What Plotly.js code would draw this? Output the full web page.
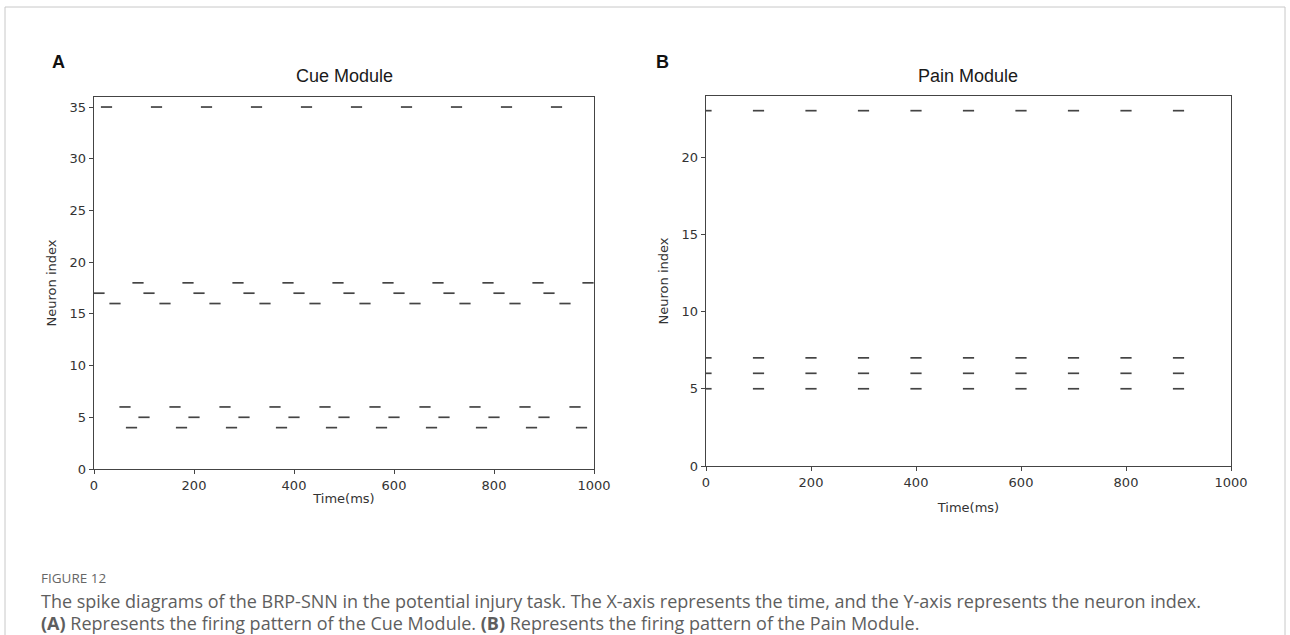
<!DOCTYPE html>
<html>
<head>
<meta charset="utf-8">
<script src="https://cdn.plot.ly/plotly-3.0.1.min.js"></script>
<style>
html,body{margin:0;padding:0;background:#fff;}
#chart{width:1290px;height:635px;}
</style>
</head>
<body>
<div id="chart"></div>
<script>
// ---- Data ----
// Panel A: Cue Module, spike times (ms) for each firing neuron
const cueNeuron35 = [25, 125, 225, 325, 425, 525, 625, 725, 825, 925];
const cueNeuron18 = [88, 188, 288, 388, 488, 588, 688, 788, 888, 988];
const cueNeuron17 = [10, 110, 210, 310, 410, 510, 610, 710, 810, 910];
const cueNeuron16 = [42, 142, 242, 342, 442, 542, 642, 742, 842, 942];
const cueNeuron6  = [62, 162, 262, 362, 462, 562, 662, 762, 862, 962];
const cueNeuron5  = [100, 200, 300, 400, 500, 600, 700, 800, 900];
const cueNeuron4  = [75, 175, 275, 375, 475, 575, 675, 775, 875, 975];
const cueNeuronIds = [35, 18, 17, 16, 6, 5, 4];
const cueSpikeLists = [cueNeuron35, cueNeuron18, cueNeuron17, cueNeuron16, cueNeuron6, cueNeuron5, cueNeuron4];

// Panel B: Pain Module
const painNeuronIds = [23, 7, 6, 5];
const painSpikeTimes = [0, 100, 200, 300, 400, 500, 600, 700, 800, 900];

// Ticks
const xTicks = [0, 200, 400, 600, 800, 1000];
const cueYTicks = [0, 5, 10, 15, 20, 25, 30, 35];
const painYTicks = [0, 5, 10, 15, 20];

// Texts
const panelTitles = ["Cue Module", "Pain Module"];
const panelLetters = ["A", "B"];
const xAxisTitle = "Time(ms)";
const yAxisTitle = "Neuron index";
const figureLabel = "FIGURE 12";
const captionLine1 = "The spike diagrams of the BRP-SNN in the potential injury task. The X-axis represents the time, and the Y-axis represents the neuron index.";
const captionLine2 = "<b>(A)</b> Represents the firing pattern of the Cue Module. <b>(B)</b> Represents the firing pattern of the Pain Module.";

// ---- Build traces ----
const cueX = [], cueY = [];
cueNeuronIds.forEach((id, i) => {
  cueSpikeLists[i].forEach(t => { cueX.push(t); cueY.push(id); });
});
const painX = [], painY = [];
painNeuronIds.forEach(id => {
  painSpikeTimes.forEach(t => { painX.push(t); painY.push(id); });
});

const W = 1290, H = 635;
const px = v => v / W;
const py = v => 1 - v / H;

const spikeMarker = {symbol: 'line-ew', size: 8, line: {width: 1.7, color: '#444'}, color: '#444'};

const traces = [
  {x: cueX, y: cueY, type: 'scatter', mode: 'markers', marker: spikeMarker, xaxis: 'x', yaxis: 'y', hoverinfo: 'x+y', showlegend: false, cliponaxis: true},
  {x: painX, y: painY, type: 'scatter', mode: 'markers', marker: spikeMarker, xaxis: 'x2', yaxis: 'y2', hoverinfo: 'x+y', showlegend: false, cliponaxis: true}
];

const tickFont = {family: 'DejaVu Sans, sans-serif', size: 13, color: '#333'};
const titleFont = {family: 'DejaVu Sans, sans-serif', size: 13, color: '#333'};

function xaxisCfg(domain, anchor, standoff) {
  return {
    domain: domain, anchor: anchor, range: [0, 1000], tickvals: xTicks, ticktext: xTicks.map(String),
    showgrid: false, zeroline: false, showline: true, mirror: true, linecolor: '#444', linewidth: 1.3,
    ticks: 'outside', ticklen: 4, tickwidth: 1, tickcolor: '#444', tickfont: tickFont,
    title: {text: xAxisTitle, font: titleFont, standoff: standoff}, automargin: false, fixedrange: true
  };
}
function yaxisCfg(domain, anchor, range, ticks) {
  return {
    domain: domain, anchor: anchor, range: range, tickvals: ticks, ticktext: ticks.map(String),
    showgrid: false, zeroline: false, showline: true, mirror: true, linecolor: '#444', linewidth: 1.3,
    ticks: 'outside', ticklen: 4, tickwidth: 1, tickcolor: '#444', tickfont: tickFont,
    title: {text: yAxisTitle, font: titleFont, standoff: 10}, automargin: false, fixedrange: true
  };
}

const annFont = {family: 'Liberation Sans, Arial, sans-serif', size: 18, color: '#1a1a1a'};
const capFont = {family: 'Open Sans, sans-serif', size: 18, color: '#5e5e5e'};

const layout = {
  width: W, height: H,
  margin: {l: 0, r: 0, t: 0, b: 0},
  paper_bgcolor: '#fff', plot_bgcolor: '#fff',
  showlegend: false,
  xaxis: xaxisCfg([px(94), px(594)], 'y', 2),
  yaxis: yaxisCfg([py(469), py(97)], 'x', [0, 35.97], cueYTicks),
  xaxis2: xaxisCfg([px(706), px(1231)], 'y2', 14),
  yaxis2: yaxisCfg([py(466), py(96)], 'x2', [0, 23.95], painYTicks),
  annotations: [
    {text: panelTitles[0], x: px(344), y: py(76), xref: 'paper', yref: 'paper', xanchor: 'center', yanchor: 'middle', showarrow: false, font: annFont},
    {text: panelTitles[1], x: px(968), y: py(76), xref: 'paper', yref: 'paper', xanchor: 'center', yanchor: 'middle', showarrow: false, font: annFont},
    {text: '<b>' + panelLetters[0] + '</b>', x: px(50), y: py(62), xref: 'paper', yref: 'paper', xanchor: 'left', yanchor: 'middle', showarrow: false, font: {family: 'Liberation Sans, Arial, sans-serif', size: 18, color: '#111'}},
    {text: '<b>' + panelLetters[1] + '</b>', x: px(654), y: py(62), xref: 'paper', yref: 'paper', xanchor: 'left', yanchor: 'middle', showarrow: false, font: {family: 'Liberation Sans, Arial, sans-serif', size: 18, color: '#111'}},
    {text: figureLabel, x: px(39), y: py(578), xref: 'paper', yref: 'paper', xanchor: 'left', yanchor: 'middle', showarrow: false, font: {family: 'Open Sans, sans-serif', size: 13.5, color: '#666'}},
    {text: captionLine1, x: px(39), y: py(601), xref: 'paper', yref: 'paper', xanchor: 'left', yanchor: 'middle', showarrow: false, font: capFont},
    {text: captionLine2, x: px(39), y: py(623), xref: 'paper', yref: 'paper', xanchor: 'left', yanchor: 'middle', showarrow: false, font: capFont}
  ],
  shapes: [
    {type: 'rect', xref: 'paper', yref: 'paper', x0: px(5), x1: px(1285), y0: py(700), y1: py(7), line: {color: '#c8c8c8', width: 1}, fillcolor: 'rgba(0,0,0,0)', layer: 'below'}
  ]
};

Plotly.newPlot('chart', traces, layout, {displayModeBar: false, staticPlot: true});
</script>
</body>
</html>
